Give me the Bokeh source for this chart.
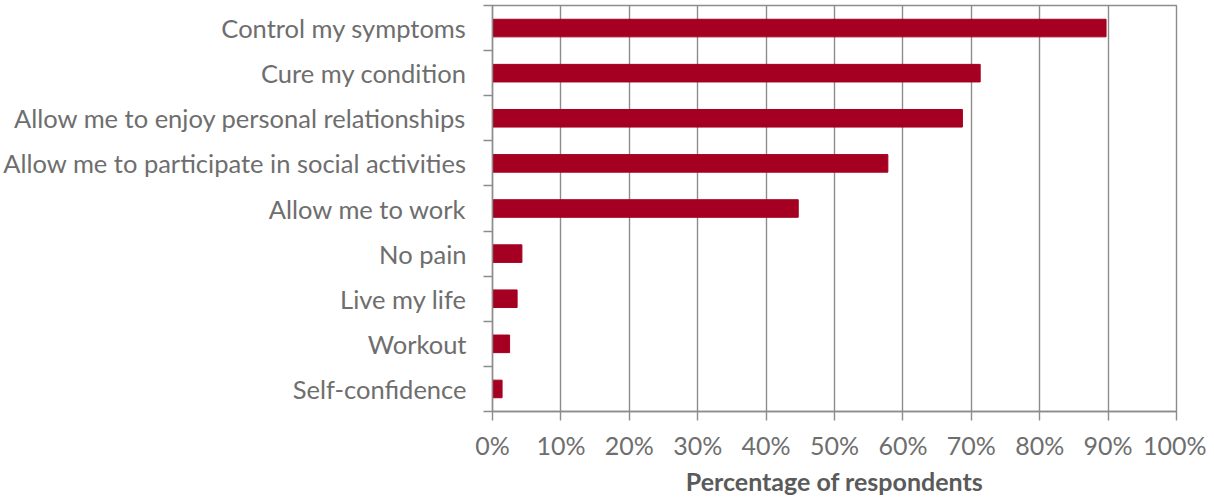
from bokeh.plotting import figure
from bokeh.models import Range1d, FixedTicker, PrintfTickFormatter, ColumnDataSource, Title
from bokeh.embed import file_html
from bokeh.resources import INLINE

categories = [
    "Control my symptoms",
    "Cure my condition",
    "Allow me to enjoy personal relationships",
    "Allow me to participate in social activities",
    "Allow me to work",
    "No pain",
    "Live my life",
    "Workout",
    "Self-confidence",
]
values = [89.7, 71.3, 68.7, 57.8, 44.7, 4.3, 3.6, 2.5, 1.4]
x_ticks = [0, 10, 20, 30, 40, 50, 60, 70, 80, 90, 100]
x_title = "Percentage of respondents"

n = len(categories)
centers = [i + 0.5 for i in range(n)]
src = ColumnDataSource(dict(y=centers, v=values, cat=categories))

FONT = "Lato"
GRAY = "#8c8c8c"
TXT = "#6e6e6e"

p = figure(width=1206, height=496, output_backend="svg", toolbar_location=None,
           x_range=Range1d(0, 100), y_range=Range1d(n, 0),
           min_border_left=491, min_border_right=30, min_border_top=5, min_border_bottom=85)
p.styles = {"margin-bottom": "-8px"}

p.hbar(y="y", right="v", left=0, height=0.39, source=src, color="#A50021")

p.outline_line_color = GRAY
p.outline_line_width = 1.4
p.background_fill_color = "white"
p.border_fill_color = "white"

# y axis
ya = p.yaxis[0]
ya.ticker = FixedTicker(ticks=centers, minor_ticks=list(range(n + 1)))
ya.major_label_overrides = {c: cat for c, cat in zip(centers, categories)}
ya.major_tick_out = 0
ya.major_tick_in = 0
ya.minor_tick_out = 9
ya.minor_tick_in = 0
ya.minor_tick_line_color = GRAY
ya.minor_tick_line_width = 1.4
ya.axis_line_color = GRAY
ya.axis_line_width = 1.4
ya.major_label_text_font = FONT
ya.major_label_text_font_size = "25.5px"
ya.major_label_text_color = TXT
ya.major_label_standoff = 17
p.ygrid.visible = False

# x axis
xa = p.xaxis[0]
xa.ticker = FixedTicker(ticks=x_ticks)
xa.formatter = PrintfTickFormatter(format="%d%%")
xa.major_tick_out = 9
xa.major_tick_in = 0
xa.minor_tick_line_color = None
xa.major_tick_line_color = GRAY
xa.major_tick_line_width = 1.4
xa.axis_line_color = GRAY
xa.axis_line_width = 1.4
xa.major_label_text_font = FONT
xa.major_label_text_font_size = "25px"
xa.major_label_text_color = TXT
xa.major_label_standoff = 9

p.add_layout(Title(text=x_title, align="center", standoff=2,
                   text_font=FONT, text_font_style="bold", text_font_size="25px",
                   text_color="#5a5a5a"), "below")

p.xgrid.ticker = FixedTicker(ticks=x_ticks)
p.xgrid.grid_line_color = GRAY
p.xgrid.grid_line_width = 1.4

open("out.html", "w").write(file_html(p, INLINE))
